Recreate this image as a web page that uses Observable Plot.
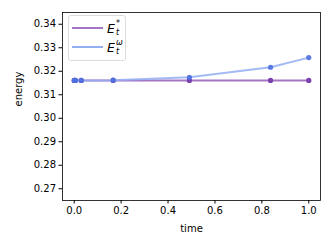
<!DOCTYPE html>
<html>
<head>
<meta charset="utf-8">
<script src="https://cdn.jsdelivr.net/npm/d3@7"></script>
<script src="https://cdn.jsdelivr.net/npm/@observablehq/plot@0.6"></script>
<style>
  body { margin: 0; background: #fff; }
  #wrap { position: relative; width: 332px; height: 249px; font-family: "DejaVu Sans", sans-serif; }
  #legend { position: absolute; left: 68px; top: 15px; width: 58px; height: 46px; box-sizing: border-box;
    border: 1px solid #dcdcdc; border-radius: 3px; background: rgba(255,255,255,0.8); }
  .row { position: absolute; left: 3px; height: 18px; display: flex; align-items: center; }
  .row svg { margin-right: 4px; }
  .m { font-style: italic; font-family: "DejaVu Sans", sans-serif; font-size: 12.5px; white-space: nowrap;
    display: inline-flex; align-items: center; }
  .ss { display: inline-flex; flex-direction: column; font-size: 8px; line-height: 8px; margin-left: 1px; }
  .ss .up { height: 8px; }
  .ss .dn { height: 8px; margin-top: 1px; }
</style>
</head>
<body>
<div id="wrap"></div>
<script>
const times = [0, 0.005, 0.03, 0.166, 0.491, 0.837, 1.0];
const eStar = [0.3161, 0.3161, 0.3161, 0.3161, 0.3161, 0.3161, 0.3161];
const eOmega = [0.3161, 0.3161, 0.3161, 0.3162, 0.3174, 0.3217, 0.3258];
const xTicks = [0, 0.2, 0.4, 0.6, 0.8, 1.0];
const yTicks = [0.27, 0.28, 0.29, 0.30, 0.31, 0.32, 0.33, 0.34];
const seriesSup = ["*", "ω"];
const lineColors = ["#a474c6", "#94aef2"];
const dotColors = ["#7a40ae", "#4d6fe0"];

const starData = times.map((t, i) => ({t, v: eStar[i]}));
const omegaData = times.map((t, i) => ({t, v: eOmega[i]}));

const chart = Plot.plot({
  width: 332,
  height: 249,
  marginLeft: 62,
  marginRight: 12,
  marginTop: 12,
  marginBottom: 49,
  style: { fontFamily: "DejaVu Sans, sans-serif", fontSize: "10px", color: "#000", background: "#fff" },
  x: { domain: [-0.05, 1.05], ticks: xTicks, tickFormat: d3.format(".1f"), tickSize: 3.5, label: null },
  y: { domain: [0.265, 0.345], ticks: yTicks, tickFormat: d3.format(".2f"), tickSize: 3.5, label: null },
  marks: [
    Plot.frame({ stroke: "#000", strokeWidth: 0.8 }),
    Plot.axisX({ ticks: xTicks, tickFormat: d3.format(".1f"), tickSize: 3.5, tickPadding: 3, fontSize: 10, label: null }),
    Plot.axisY({ ticks: yTicks, tickFormat: d3.format(".2f"), tickSize: 3.5, tickPadding: 3, fontSize: 10, label: null }),
    Plot.text(["time"], { frameAnchor: "bottom", dy: 31, fontSize: 10, fill: "#000" }),
    Plot.text(["energy"], { frameAnchor: "left", dx: -44, rotate: -90, fontSize: 10, fill: "#000" }),
    Plot.line(starData, { x: "t", y: "v", stroke: lineColors[0], strokeWidth: 2 }),
    Plot.dot(starData, { x: "t", y: "v", r: 2.6, fill: dotColors[0], stroke: "none" }),
    Plot.line(omegaData, { x: "t", y: "v", stroke: lineColors[1], strokeWidth: 2, strokeOpacity: 0.85 }),
    Plot.dot(omegaData, { x: "t", y: "v", r: 2.6, fill: dotColors[1], fillOpacity: 0.9, stroke: "none" })
  ]
});

const wrap = document.getElementById("wrap");
wrap.appendChild(chart);

const legend = document.createElement("div");
legend.id = "legend";
seriesSup.forEach((sup, i) => {
  const row = document.createElement("div");
  row.className = "row";
  row.style.top = (3 + i * 19) + "px";
  row.innerHTML = `<svg width="31" height="4"><line x1="0" y1="2" x2="31" y2="2" stroke="${lineColors[i]}" stroke-width="2"/></svg>` +
    `<span class="m">E<span class="ss"><span class="up">${sup}</span><span class="dn">t</span></span></span>`;
  legend.appendChild(row);
});
wrap.appendChild(legend);
</script>
</body>
</html>
